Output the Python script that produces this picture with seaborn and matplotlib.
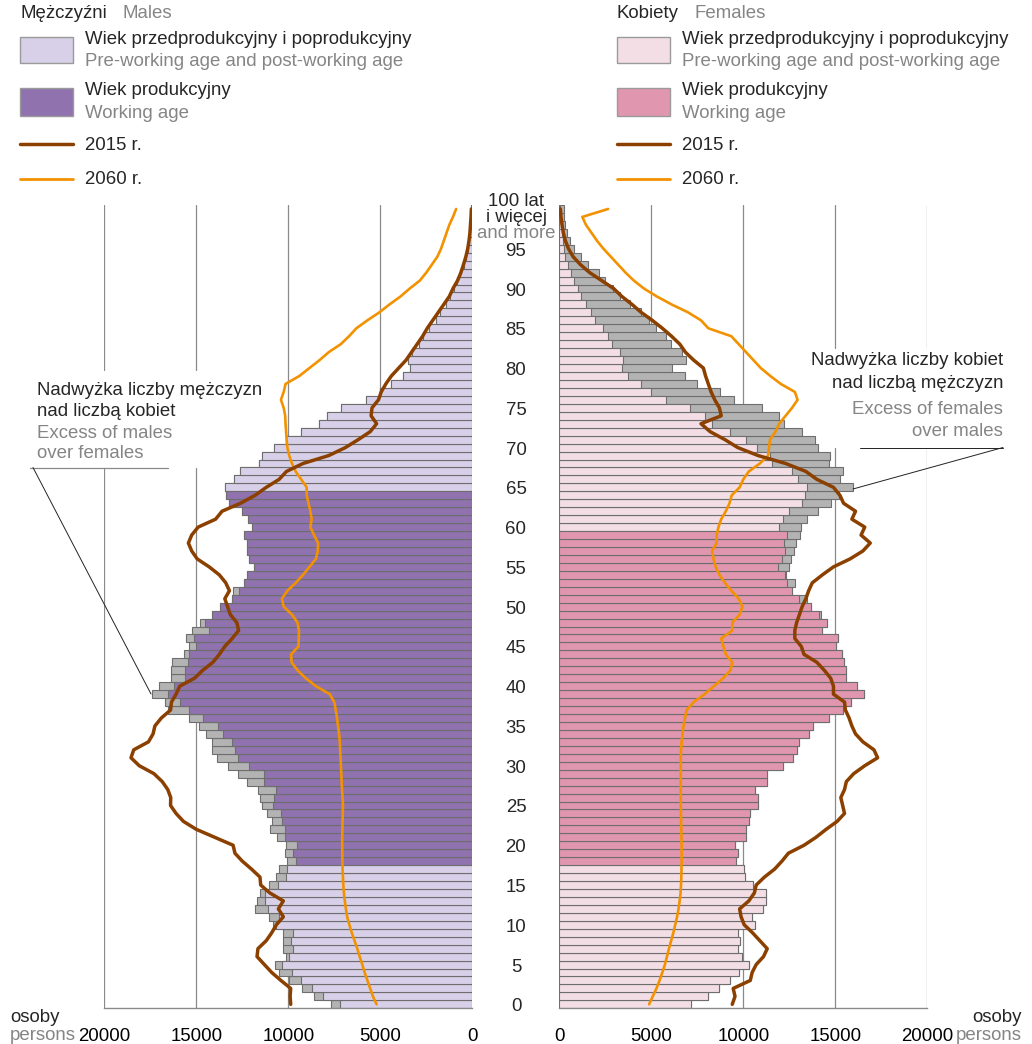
import numpy as np
import pandas as pd
import matplotlib
matplotlib.use("Agg")
import matplotlib.pyplot as plt
import matplotlib.transforms as mtransforms
from matplotlib.lines import Line2D
from matplotlib.patches import Rectangle
import seaborn as sns

# ---------------- data ----------------
ages = list(range(101))

males = [7680, 8590, 9240, 9980, 10500, 10740, 10140, 10270, 10270, 10270,
         10820, 11060, 11790, 11690, 11540, 11030, 10690, 10490, 10070, 10180,
         10110, 10630, 10980, 10900, 11170, 11450, 11560, 11630, 12230, 12750,
         13290, 13890, 14150, 14150, 14490, 14840, 15380, 16520, 16720, 17420,
         17010, 16390, 16390, 16320, 15650, 15380, 15560, 15250, 14800, 14130,
         13710, 13040, 12990, 12400, 12250, 11870, 12120, 12250, 12230, 12390,
         11960, 12170, 12500, 13210, 13360, 13460, 12950, 12650, 11580, 11450,
         10760, 10120, 9300, 8315, 7915, 7130, 5800, 4990, 4420, 3760,
         3390, 3470, 3300, 2880, 2670, 2350, 1965, 1730, 1430, 1190,
         1020, 810, 650, 470, 320, 260, 200, 140, 100, 70, 60]

females = [7170, 8100, 8700, 9290, 9780, 10330, 9950, 9730, 9840, 9730,
           10650, 10490, 11090, 11250, 11250, 10540, 10110, 10050, 9590, 9730,
           9540, 10160, 10160, 10330, 10380, 10815, 10800, 10650, 11300, 11300,
           12150, 12720, 12900, 13040, 13550, 13800, 14650, 15400, 15870, 16540,
           16200, 15590, 15590, 15450, 15370, 15030, 15120, 14300, 14530, 14240,
           13700, 13480, 12660, 12830, 12320, 12500, 12580, 12770, 12850, 13080,
           13120, 13440, 14040, 14770, 15220, 15950, 15260, 15440, 14640, 14730,
           14040, 13910, 13170, 12230, 11920, 11030, 9480, 8730, 7500, 6820,
           6110, 6870, 6650, 6070, 5780, 5240, 4880, 4420, 3840, 3280,
           2940, 2470, 2170, 1540, 1200, 800, 580, 400, 310, 255, 235]

males_2015 = [9870, 9900, 9870, 10400, 10900, 11300, 11700, 11650, 11200, 10900,
              10650, 10270, 10540, 10270, 11000, 11500, 11540, 12000, 12500, 12900,
              13000, 14000, 15000, 15700, 16100, 16400, 16390, 16550, 16850, 17300,
              18100, 18550, 18400, 17600, 17350, 17250, 16900, 16400, 16350, 16100,
              15900, 15100, 14650, 14100, 13750, 13450, 13050, 12700, 12800, 13150,
              13300, 13450, 13200, 13400, 13750, 14300, 14950, 15250, 15430, 15250,
              14900, 13950, 13600, 12600, 11800, 11200, 10500, 10100, 9200, 7800,
              6900, 6200, 5550, 5200, 5500, 5450, 5100, 4950, 4700, 4400,
              4000, 3600, 3300, 3000, 2700, 2450, 2150, 1850, 1550, 1250,
              1050, 800, 620, 480, 350, 250, 180, 130, 100, 70, 50]

females_2015 = [9400, 9550, 9450, 10380, 10480, 10700, 11100, 11300, 10900, 10500,
                10050, 9880, 9800, 10300, 10600, 10700, 11150, 11700, 12100, 12450,
                13300, 13950, 14500, 15100, 15500, 15400, 15300, 15500, 15600, 16000,
                16600, 17300, 17100, 16500, 16100, 15900, 15750, 15550, 15500, 14900,
                14900, 14750, 14400, 14000, 13300, 13150, 12800, 12800, 12900, 13050,
                13200, 13400, 13550, 13750, 14300, 14900, 15800, 16500, 16900, 16400,
                16600, 15900, 16100, 15450, 15250, 14900, 14000, 13400, 12300, 10800,
                9700, 9000, 8200, 7700, 8800, 8700, 8450, 8250, 8100, 7950,
                7830, 7300, 6850, 6550, 6100, 5600, 5050, 4450, 3950, 3400,
                2950, 2300, 1650, 1150, 750, 500, 330, 220, 150, 90, 60]

males_2060 = [5200, 5400, 5550, 5700, 5850, 5980, 6120, 6250, 6400, 6550,
              6680, 6800, 6870, 6930, 6980, 7010, 7030, 7050, 7060, 7065,
              7070, 7070, 7060, 7050, 7040, 7030, 7050, 7080, 7100, 7120,
              7140, 7160, 7180, 7200, 7240, 7300, 7350, 7420, 7500, 7750,
              8500, 9050, 9500, 9820, 9850, 9450, 9430, 9420, 9500, 9800,
              10250, 10350, 10050, 9600, 9200, 8850, 8500, 8400, 8380, 8600,
              8800, 8730, 8800, 8900, 9000, 9000, 9300, 9600, 9800, 9950,
              10050, 10090, 10120, 10150, 10170, 10250, 10400, 10250, 10150, 9400,
              8850, 8300, 7800, 7150, 6700, 6300, 5700, 5050, 4500, 3900,
              3400, 2850, 2500, 2200, 1900, 1700, 1550, 1400, 1250, 1050, 880]

females_2060 = [4880, 5080, 5280, 5450, 5600, 5740, 5850, 5960, 6080, 6200,
                6300, 6400, 6480, 6540, 6590, 6615, 6630, 6640, 6650, 6650,
                6650, 6640, 6630, 6620, 6610, 6600, 6600, 6600, 6600, 6600,
                6600, 6600, 6620, 6650, 6700, 6750, 6830, 6920, 7300, 7900,
                8400, 8900, 9300, 9400, 9050, 8920, 8800, 9400, 9400, 9800,
                9950, 9750, 9350, 9000, 8700, 8500, 8380, 8300, 8550, 8550,
                8650, 8800, 9050, 9250, 9370, 9800, 10000, 10300, 10900, 11350,
                11400, 11450, 11750, 11950, 12300, 12650, 12950, 12800, 12040, 11470,
                10950, 10550, 10150, 9750, 9350, 8100, 7700, 7000, 6100, 5300,
                4600, 4050, 3600, 3200, 2800, 2400, 2050, 1750, 1450, 1250, 2650]

x_ticks = [0, 5000, 10000, 15000, 20000]
x_tick_labels = ["0", "5000", "10000", "15000", "20000"]
age_ticks = list(range(0, 100, 5))

# ---------------- style ----------------
sns.set_theme(style="white")
plt.rcParams["font.family"] = ["Liberation Sans", "DejaVu Sans"]

FS = 13.4
GREYTXT = "#858585"
LPUR, DPUR = "#d8d0e8", "#8f72ae"
LPINK, DPINK = "#f3dee6", "#e196af"
EXC = "#b3b3b3"
EDGE = "#6e6e6e"
BROWN, ORANGE = "#8b4000", "#f39200"
GRID = "#8a8a8a"

W, H = 1032, 1044
fig = plt.figure(figsize=(W / 100, H / 100), dpi=100)
fig.patch.set_facecolor("white")


def fx(x):
    return x / W


def fy(y):
    return 1 - y / H


TOP, BOT = 205.0, 1008.3
axL = fig.add_axes([fx(104.3), fy(BOT), (472.3 - 104.3) / W, (BOT - TOP) / H])
axR = fig.add_axes([fx(559.3), fy(BOT), (927.3 - 559.3) / W, (BOT - TOP) / H])

df = pd.DataFrame({"age": ages, "male": males, "female": females})
df["common"] = df[["male", "female"]].min(axis=1)
df["m_group"] = np.where((df.age >= 18) & (df.age <= 64), "work", "other")
df["f_group"] = np.where((df.age >= 18) & (df.age <= 59), "work", "other")

for ax, total, grp, pal in [
    (axL, "male", "m_group", {"work": DPUR, "other": LPUR}),
    (axR, "female", "f_group", {"work": DPINK, "other": LPINK}),
]:
    sns.barplot(data=df, x=total, y="age", orient="h", native_scale=True,
                width=1.0, color=EXC, saturation=1, edgecolor=EDGE,
                linewidth=0.8, errorbar=None, ax=ax)
    sns.barplot(data=df, x="common", y="age", hue=grp, palette=pal,
                orient="h", native_scale=True, width=1.0, dodge=False,
                saturation=1, edgecolor=EDGE, linewidth=0.8, errorbar=None,
                legend=False, ax=ax)

sns.lineplot(x=males_2060, y=ages, sort=False, estimator=None, color=ORANGE,
             lw=1.9, ax=axL)
sns.lineplot(x=males_2015, y=ages, sort=False, estimator=None, color=BROWN,
             lw=2.5, ax=axL)
sns.lineplot(x=females_2060, y=ages, sort=False, estimator=None, color=ORANGE,
             lw=1.9, ax=axR)
sns.lineplot(x=females_2015, y=ages, sort=False, estimator=None, color=BROWN,
             lw=2.5, ax=axR)

axL.set_xlim(20000, 0)
axR.set_xlim(0, 20000)


def yfrac(ypx):
    return (BOT - ypx) / (BOT - TOP)


for ax in (axL, axR):
    ax.set_ylim(-0.5, 100.5)
    ax.set_xlabel("")
    ax.set_ylabel("")
    ax.set_yticks([])
    ax.set_xticks(x_ticks)
    ax.set_xticklabels(x_tick_labels, fontsize=FS, color="black")
    ax.tick_params(axis="x", length=0, pad=14)
    for s in ("top", "left", "right"):
        ax.spines[s].set_visible(False)
    ax.spines["bottom"].set_color(GRID)
    ax.spines["bottom"].set_linewidth(1.0)

# gridlines (interrupted behind the annotation texts)
for v in (5000, 10000):
    axL.axvline(v, color=GRID, lw=0.9, zorder=0.5)
    axR.axvline(v, color=GRID, lw=0.9, zorder=0.5)
for v in (15000, 20000):
    axL.axvline(v, 0, yfrac(467.5), color=GRID, lw=0.9, zorder=0.5)
    axL.axvline(v, yfrac(370), 1, color=GRID, lw=0.9, zorder=0.5)
    axR.axvline(v, 0, yfrac(447.5), color=GRID, lw=0.9, zorder=0.5)
    axR.axvline(v, yfrac(348), 1, color=GRID, lw=0.9, zorder=0.5)

# age labels in the middle
trans = mtransforms.blended_transform_factory(axR.transAxes, axR.transData)
trans = mtransforms.offset_copy(trans, fig=fig, x=0, y=-2.5, units="dots")
xmid = (516 - 559.3) / (927.3 - 559.3)
for a in age_ticks:
    axR.text(xmid, a, str(a), transform=trans, ha="center", va="center",
             fontsize=FS, clip_on=False)
fig.text(fx(516), fy(202), "100 lat", ha="center", va="center", fontsize=FS)
fig.text(fx(516), fy(218), "i więcej", ha="center", va="center", fontsize=FS)
fig.text(fx(516), fy(234), "and more", ha="center", va="center", fontsize=FS,
         color=GREYTXT)

# bottom unit labels
fig.text(fx(10), fy(1017), "osoby", ha="left", va="center", fontsize=FS)
fig.text(fx(10), fy(1035), "persons", ha="left", va="center", fontsize=FS,
         color=GREYTXT)
fig.text(fx(1022), fy(1017), "osoby", ha="right", va="center", fontsize=FS)
fig.text(fx(1022), fy(1035), "persons", ha="right", va="center", fontsize=FS,
         color=GREYTXT)

# legends
def legend_block(x0, title_pl, title_en, light, dark):
    fig.text(fx(x0), fy(14), title_pl, ha="left", va="center", fontsize=FS)
    w_pl = {"Mężczyźni": 103, "Kobiety": 78}[title_pl]
    fig.text(fx(x0 + w_pl), fy(14), title_en, ha="left", va="center",
             fontsize=FS, color=GREYTXT)
    for (y0, y1, col) in [(37, 63, light), (88, 116, dark)]:
        fig.add_artist(Rectangle((fx(x0), fy(y1)), fx(53), (y1 - y0) / H,
                                 transform=fig.transFigure, facecolor=col,
                                 edgecolor="#9a9a9a", lw=1.0))
    tx = x0 + 65
    fig.text(fx(tx), fy(40), "Wiek przedprodukcyjny i poprodukcyjny",
             ha="left", va="center", fontsize=FS)
    fig.text(fx(tx), fy(61), "Pre-working age and post-working age",
             ha="left", va="center", fontsize=FS, color=GREYTXT)
    fig.text(fx(tx), fy(90), "Wiek produkcyjny", ha="left", va="center",
             fontsize=FS)
    fig.text(fx(tx), fy(114), "Working age", ha="left", va="center",
             fontsize=FS, color=GREYTXT)
    fig.add_artist(Line2D([fx(x0), fx(x0 + 53)], [fy(143.5)] * 2,
                          transform=fig.transFigure, color=BROWN, lw=2.5))
    fig.add_artist(Line2D([fx(x0), fx(x0 + 53)], [fy(179)] * 2,
                          transform=fig.transFigure, color=ORANGE, lw=2.0))
    fig.text(fx(tx), fy(145), "2015 r.", ha="left", va="center", fontsize=FS)
    fig.text(fx(tx), fy(179), "2060 r.", ha="left", va="center", fontsize=FS)


legend_block(20, "Mężczyźni", "Males", LPUR, DPUR)
legend_block(617, "Kobiety", "Females", LPINK, DPINK)

# annotations
fig.text(fx(37), fy(391), "Nadwyżka liczby mężczyzn", ha="left", va="center",
         fontsize=FS)
fig.text(fx(37), fy(412), "nad liczbą kobiet", ha="left", va="center",
         fontsize=FS)
fig.text(fx(37), fy(433), "Excess of males", ha="left", va="center",
         fontsize=FS, color=GREYTXT)
fig.text(fx(37), fy(454), "over females", ha="left", va="center",
         fontsize=FS, color=GREYTXT)
fig.add_artist(Line2D([fx(30), fx(168)], [fy(467.5)] * 2,
                      transform=fig.transFigure, color=GRID, lw=0.9))
fig.add_artist(Line2D([fx(33), fx(151)], [fy(467.5), fy(694)],
                      transform=fig.transFigure, color="#222222", lw=0.7))

fig.text(fx(1003), fy(361), "Nadwyżka liczby kobiet", ha="right",
         va="center", fontsize=FS)
fig.text(fx(1003), fy(384), "nad liczbą mężczyzn", ha="right", va="center",
         fontsize=FS)
fig.text(fx(1003), fy(409), "Excess of females", ha="right", va="center",
         fontsize=FS, color=GREYTXT)
fig.text(fx(1003), fy(432), "over males", ha="right", va="center",
         fontsize=FS, color=GREYTXT)
fig.add_artist(Line2D([fx(860), fx(1003)], [fy(447.5)] * 2,
                      transform=fig.transFigure, color="#222222", lw=0.7))
fig.add_artist(Line2D([fx(1003), fx(853)], [fy(447.5), fy(489)],
                      transform=fig.transFigure, color="#222222", lw=0.7))

fig.savefig("out.png", dpi=100, facecolor="white")
